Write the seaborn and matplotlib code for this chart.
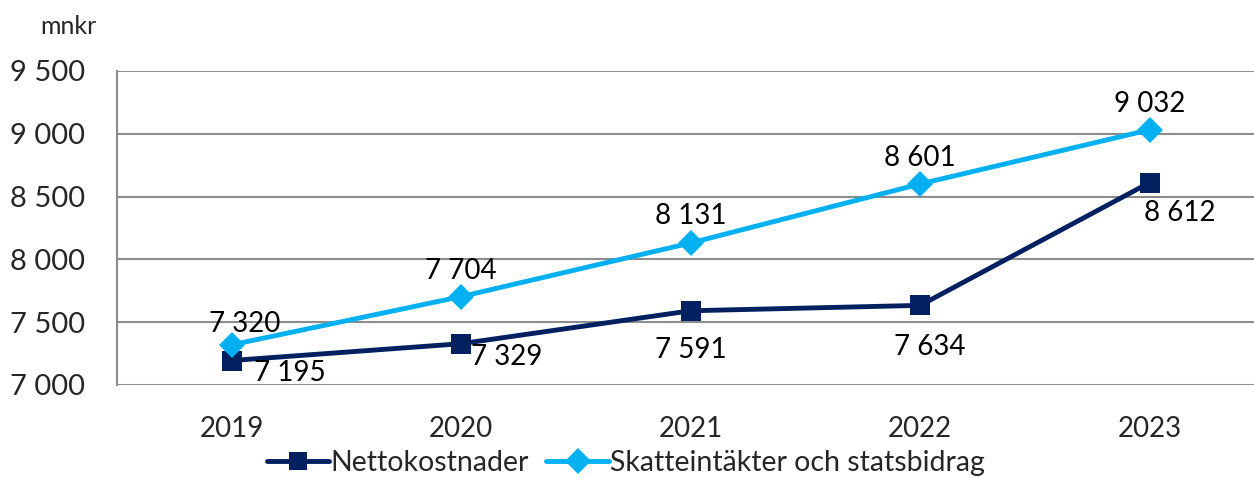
import pandas as pd
import seaborn as sns
import matplotlib.pyplot as plt

years = ["2019", "2020", "2021", "2022", "2023"]
netto = [7195, 7329, 7591, 7634, 8612]
skatt = [7320, 7704, 8131, 8601, 9032]
series_names = ["Nettokostnader", "Skatteintäkter och statsbidrag"]
yticks = [7000, 7500, 8000, 8500, 9000, 9500]

df = pd.DataFrame({
    "År": years * 2,
    "mnkr": netto + skatt,
    "Serie": [series_names[0]] * 5 + [series_names[1]] * 5,
})

sns.set_theme(style="white")
plt.rcParams["font.family"] = ["Lato", "DejaVu Sans"]

fmt = lambda v: f"{v:,}".replace(",", " ")
colors = {series_names[0]: "#002060", series_names[1]: "#00B0F0"}

fig = plt.figure(figsize=(12.54, 4.78), dpi=100)
ax = fig.add_axes([117 / 1254, 1 - 385 / 478, 1 - 117 / 1254, (385 - 71) / 478])

sns.lineplot(data=df, x="År", y="mnkr", hue="Serie", style="Serie",
             palette=colors, markers={series_names[0]: "s", series_names[1]: "D"},
             dashes=False, linewidth=3.5, markersize=13, markeredgewidth=0,
             ax=ax, legend=True)
# bigger squares for Nettokostnader
ax.lines[0].set_markersize(14.5)

# data labels
netto_off = [(58, -12), (45, -13), (0, -39), (10, -42), (30, -30)]
for i, v in enumerate(netto):
    ax.annotate(fmt(v), (i, v), textcoords="offset pixels", xytext=netto_off[i],
                ha="center", va="center", fontsize=20, color="black")
skatt_off = [(13, 21), (0, 26), (0, 27), (0, 26), (0, 26)]
for i, v in enumerate(skatt):
    ax.annotate(fmt(v), (i, v), textcoords="offset pixels", xytext=skatt_off[i],
                ha="center", va="center", fontsize=20, color="black")

ax.set_yticks(yticks)
ax.set_yticklabels([fmt(t) for t in yticks], fontsize=21)
ax.set_xticks(range(5))
ax.set_xticklabels(years, fontsize=20)
ax.set_xticks([i - 0.5 for i in range(5)], minor=True)
ax.set_xlim(-0.5, -0.5 + (1254 - 117) / 229.5)
ax.set_ylim(7000, 9500)
ax.tick_params(axis="x", which="major", length=0, pad=22)
ax.tick_params(axis="x", which="minor", length=9, width=1.5, color="#8c8c8c", direction="out")
ax.tick_params(axis="y", length=11, width=1.5, color="#8c8c8c", direction="out", pad=12)
ax.yaxis.grid(True, color="#8c8c8c", linewidth=1.5)
ax.set_xlabel("")
ax.set_ylabel("")
for s in ["top", "right", "bottom"]:
    ax.spines[s].set_visible(False)
ax.spines["left"].set_color("#8c8c8c")
ax.spines["left"].set_linewidth(1.5)

handles, labels = ax.get_legend_handles_labels()
ax.get_legend().remove()
fig.legend(handles, labels, loc="center", bbox_to_anchor=(626 / 1254, 1 - 463 / 478), ncol=2,
           frameon=False, fontsize=20.5, handlelength=2.2, handletextpad=0.05,
           columnspacing=0.6, borderaxespad=0)

fig.text(40 / 1254, 1 - 27 / 478, "mnkr", fontsize=18, va="center", ha="left")

fig.savefig("out.png", dpi=100)
